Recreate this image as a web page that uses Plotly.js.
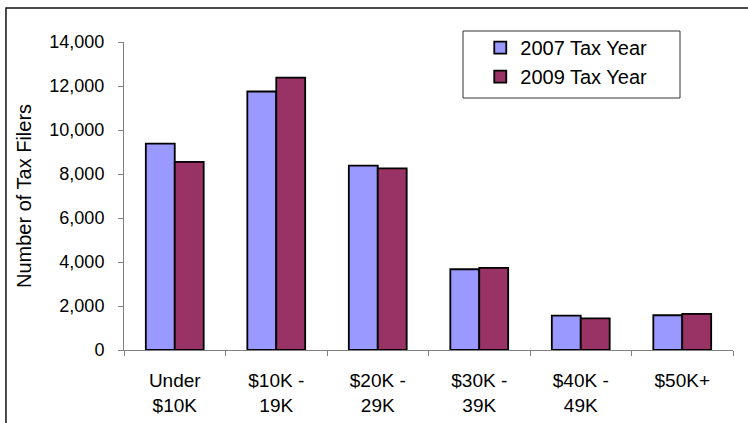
<!DOCTYPE html>
<html>
<head>
<meta charset="utf-8">
<script src="https://cdn.plot.ly/plotly-3.0.1.min.js"></script>
<style>html,body{margin:0;padding:0;background:#fff;}#chart{width:748px;height:423px;}</style>
</head>
<body>
<div id="chart"></div>
<script>
const categories = ["Under $10K", "$10K - 19K", "$20K - 29K", "$30K - 39K", "$40K - 49K", "$50K+"];
const tickLabels = ["Under<br>$10K", "$10K -<br>19K", "$20K -<br>29K", "$30K -<br>39K", "$40K -<br>49K", "$50K+"];
const seriesNames = ["2007 Tax Year", "2009 Tax Year"];
const values2007 = [9380, 11750, 8380, 3670, 1560, 1580];
const values2009 = [8550, 12380, 8260, 3730, 1440, 1640];
const yTicks = [0, 2000, 4000, 6000, 8000, 10000, 12000, 14000];

const FONT = "Liberation Sans, Arial, sans-serif";

const traces = [
  {type: "bar", name: seriesNames[0], x: categories, y: values2007, legendgroup: "a",
   marker: {color: "#9999FF", line: {color: "#000", width: 1.8}}},
  {type: "bar", name: seriesNames[1], x: categories, y: values2009, legendgroup: "b",
   marker: {color: "#993366", line: {color: "#000", width: 1.8}}}
];

const layout = {
  width: 748, height: 423,
  margin: {l: 124, r: 15, t: 42, b: 73},
  paper_bgcolor: "#fff", plot_bgcolor: "#fff",
  font: {family: FONT, size: 18, color: "#000"},
  barmode: "group", bargap: 0.43, bargroupgap: 0,
  showlegend: true,
  legend: {x: 0.585, y: 1.045, xanchor: "left", yanchor: "top", bgcolor: "rgba(0,0,0,0)",
           borderwidth: 0, font: {family: FONT, size: 20}, tracegroupgap: 18, traceorder: "normal"},
  xaxis: {
    type: "category", tickmode: "array", tickvals: categories, ticktext: tickLabels,
    tickson: "boundaries", ticks: "outside", ticklen: 5, tickcolor: "#808080",
    showline: true, linecolor: "#808080", linewidth: 1, showgrid: false, zeroline: false,
    ticklabelstandoff: 13, tickfont: {family: FONT, size: 19}, fixedrange: true
  },
  yaxis: {
    range: [0, 14000], tickmode: "array", tickvals: yTicks, tickformat: ",d",
    ticks: "outside", ticklen: 5, tickcolor: "#808080",
    showline: true, linecolor: "#808080", linewidth: 1, showgrid: false, zeroline: false,
    ticklabelstandoff: 10, tickfont: {family: FONT, size: 18},
    title: {text: "Number of Tax Filers", font: {family: FONT, size: 20}, standoff: 12},
    automargin: false, fixedrange: true
  },
  shapes: [
    {type: "rect", xref: "paper", yref: "paper", x0: (463-124)/609, x1: (680-124)/609,
     y0: (350-98)/308, y1: (350-31)/308, line: {color: "#333", width: 1}, fillcolor: "rgba(0,0,0,0)", layer: "below"},
    {type: "path", xref: "paper", yref: "paper",
     path: "M -0.1938 -0.5 L -0.1938 1.1104 L 1.2 1.1104", line: {color: "#111", width: 1.5}}
  ]
};

Plotly.newPlot("chart", traces, layout, {staticPlot: true, displayModeBar: false});
</script>
</body>
</html>
